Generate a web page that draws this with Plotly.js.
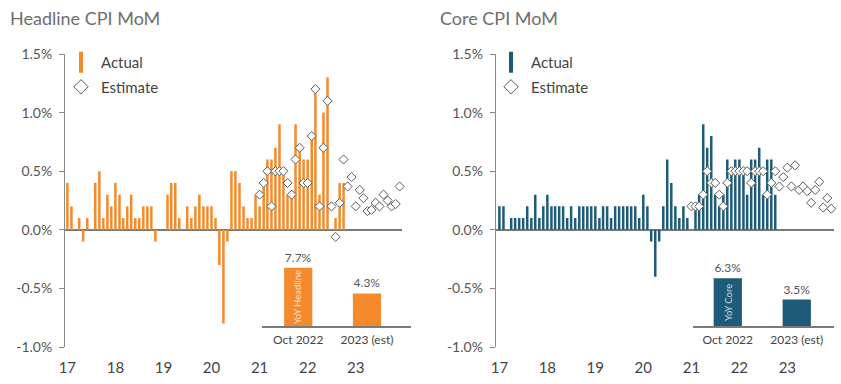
<!DOCTYPE html>
<html><head><meta charset="utf-8">
<script src="https://cdn.plot.ly/plotly-3.0.1.min.js"></script>
<style>html,body{margin:0;padding:0;background:#fff}#chart{width:841px;height:384px}</style>
</head><body><div id="chart"></div>
<script>
// ---- data (monthly MoM %, starting Jan 2017) ----
const startYear = 2017;
const headlineActual = [0.4,0.2,0,0.1,-0.1,0.1,0,0.4,0.5,0.1,0.3,0.2,
  0.4,0.3,0.1,0.2,0.3,0.1,0.1,0.2,0.2,0.2,-0.1,0,
  0,0.3,0.4,0.4,0.1,0,0.2,0.1,0.2,0.3,0.2,0.2,
  0.2,0.1,-0.3,-0.8,-0.1,0.5,0.5,0.4,0.2,0.1,0.1,0.3,
  0.2,0.4,0.6,0.6,0.7,0.9,0.5,0.3,0.3,0.9,0.7,0.6,
  0.6,0.8,1.2,0.3,1.0,1.3,0,0.1,0.4,0.4];
const coreActual = [0.2,0.2,0,0.1,0.1,0.1,0.1,0.2,0.1,0.3,0.1,0.2,
  0.3,0.2,0.2,0.2,0.2,0.1,0.2,0.1,0.2,0.2,0.2,0.2,
  0.2,0.1,0.2,0.2,0.1,0.2,0.2,0.2,0.2,0.2,0.2,0.1,
  0.3,0.2,-0.1,-0.4,-0.1,0.2,0.6,0.4,0.2,0.1,0.2,0.1,
  0,0.2,0.3,0.9,0.7,0.8,0.3,0.2,0.3,0.6,0.5,0.6,
  0.6,0.5,0.3,0.6,0.6,0.7,0.3,0.6,0.6,0.3];
// estimates start Jan 2021 (month index 48) and run to Dec 2023
const estimateStartIndex = 48;
const headlineEstimate = [0.3,0.4,0.5,0.2,0.5,0.5,0.5,0.4,0.3,0.6,0.7,0.4,
  0.4,0.8,1.2,0.2,0.7,1.1,0.2,-0.06,0.23,0.6,0.37,0.45,
  0.2,0.34,0.27,0.16,0.17,0.23,0.2,0.3,0.25,0.2,0.22,0.37];
const coreEstimate = [0.2,0.2,0.2,0.3,0.5,0.4,0.4,0.3,0.2,0.4,0.5,0.5,
  0.5,0.5,0.5,0.4,0.5,0.5,0.5,0.3,0.4,0.5,0.37,0.45,
  0.53,0.37,0.55,0.34,0.37,0.33,0.23,0.34,0.41,0.19,0.27,0.18];
const yearTickLabels = ['17','18','19','20','21','22','23'];
const yTickVals = [-1,-0.5,0,0.5,1,1.5];
const yTickText = ['-1.0%','-0.5%','0.0%','0.5%','1.0%','1.5%'];
const yoyCategories = ['Oct 2022','2023 (est)'];
const yoyHeadline = [7.7,4.3];
const yoyCore = [6.3,3.5];
const yoyHeadlineLabel = 'YoY Headline';
const yoyCoreLabel = 'YoY Core';

// ---- helpers ----
function monthDate(i){
  const y = startYear + Math.floor(i/12);
  const m = (i % 12) + 1;
  return y + '-' + String(m).padStart(2,'0') + '-01';
}
const actualDates = headlineActual.map((_, i) => monthDate(i));
const estimateDates = headlineEstimate.map((_, i) => monthDate(i + estimateStartIndex));
const yearTickVals = yearTickLabels.map((_, k) => monthDate(12*k));

const ORANGE = '#F48A2B';
const TEAL = '#1E5B78';
const FONT = 'Lato, "Open Sans", sans-serif';
const W = 841, H = 384;

function estTrace(y, xa, ya){
  return {type:'scatter', mode:'markers', x: estimateDates, y: y, xaxis: xa, yaxis: ya,
    marker:{symbol:'diamond', size:7, color:'#ffffff', line:{color:'#5a5a5a', width:1}},
    showlegend:false, hoverinfo:'skip', cliponaxis:false};
}
function legendBar(color, legend){
  return {type:'scatter', mode:'markers', x:[null], y:[null], name:'Actual', legend: legend,
    legendgroup:'a', marker:{symbol:'line-ns', size:15, line:{color: color, width:4}}};
}
function legendDiamond(legend){
  return {type:'scatter', mode:'markers', x:[null], y:[null], name:'Estimate', legend: legend,
    legendgroup:'e', marker:{symbol:'diamond', size:11, color:'#ffffff', line:{color:'#5a5a5a', width:1}}};
}

const traces = [
  {type:'bar', x: actualDates, y: headlineActual, xaxis:'x', yaxis:'y', marker:{color: ORANGE}, showlegend:false},
  estTrace(headlineEstimate, 'x', 'y'),
  {type:'bar', x: actualDates, y: coreActual, xaxis:'x2', yaxis:'y2', marker:{color: TEAL}, showlegend:false},
  estTrace(coreEstimate, 'x2', 'y2'),
  {type:'bar', x: yoyCategories, y: yoyHeadline, xaxis:'x3', yaxis:'y3', marker:{color: ORANGE}, width:0.41,
    text: yoyHeadline.map(v => v.toFixed(1) + '%'), textposition:'outside', cliponaxis:false,
    textfont:{size:12, color:'#555', family: FONT}, showlegend:false},
  {type:'bar', x: yoyCategories, y: yoyCore, xaxis:'x4', yaxis:'y4', marker:{color: TEAL}, width:0.41,
    text: yoyCore.map(v => v.toFixed(1) + '%'), textposition:'outside', cliponaxis:false,
    textfont:{size:12, color:'#555', family: FONT}, showlegend:false},
  legendBar(ORANGE, 'legend'), legendDiamond('legend'),
  legendBar(TEAL, 'legend2'), legendDiamond('legend2')
];

function mainX(domain, range){
  return {domain: domain, type:'date', range: range, showgrid:false, zeroline:false, showline:false,
    ticks:'', tickmode:'array', tickvals: yearTickVals, ticktext: yearTickLabels,
    tickfont:{size:15, color:'#444', family: FONT}, ticklabelstandoff: 10, fixedrange:true};
}
function mainY(anchor){
  return {domain:[37/H, 330/H], range:[-1, 1.5], anchor: anchor, showgrid:false,
    showline:true, linecolor:'#8a8a8a', linewidth:1, ticks:'outside', ticklen:5, tickcolor:'#8a8a8a',
    tickmode:'array', tickvals: yTickVals, ticktext: yTickText,
    tickfont:{size:14, color:'#555', family: FONT}, ticklabelstandoff: 4,
    zeroline:true, zerolinecolor:'#7a7a7a', zerolinewidth:1.5};
}
function insetX(domain, anchor, range){
  return {domain: domain, anchor: anchor, type:'category', range: range, showgrid:false, zeroline:false,
    showline:true, linecolor:'#7a7a7a', linewidth:1.5, ticks:'',
    tickfont:{size:12, color:'#444', family: FONT}, ticklabelstandoff: 2};
}
function insetY(anchor){
  return {domain:[58/H, 133.7/H], range:[0, 10], anchor: anchor, visible:false};
}

const layout = {
  width: W, height: H, margin:{l:0, r:0, t:0, b:0, pad:0},
  paper_bgcolor:'#ffffff', plot_bgcolor:'rgba(0,0,0,0)',
  font:{family: FONT, color:'#555'},
  bargap: 0.32,
  xaxis: mainX([65/W, 402/W], ['2016-12-14', '2023-12-19']),
  yaxis: mainY('x'),
  xaxis2: mainX([495.7/W, 834/W], ['2016-12-04', '2023-12-22']),
  yaxis2: mainY('x2'),
  xaxis3: insetX([262/W, 411/W], 'y3', [-0.527, 1.64]),
  yaxis3: insetY('x3'),
  xaxis4: insetX([693.3/W, 834/W], 'y4', [-0.5, 1.54]),
  yaxis4: insetY('x4'),
  legend: {x: 61/W, y: 1 - 46/H, xanchor:'left', yanchor:'top', bgcolor:'rgba(0,0,0,0)',
    font:{size:15, color:'#444', family: FONT}, tracegroupgap: 2, itemclick:false},
  legend2: {x: 491/W, y: 1 - 46/H, xanchor:'left', yanchor:'top', bgcolor:'rgba(0,0,0,0)',
    font:{size:15, color:'#444', family: FONT}, tracegroupgap: 2, itemclick:false},
  annotations: [
    {text:'Headline CPI MoM', xref:'paper', yref:'paper', x: 8/W, y: 1 - 18/H, xanchor:'left', yanchor:'middle',
      showarrow:false, font:{size:18, color:'#6e6e6e', family: FONT}},
    {text:'Core CPI MoM', xref:'paper', yref:'paper', x: 438/W, y: 1 - 18/H, xanchor:'left', yanchor:'middle',
      showarrow:false, font:{size:18, color:'#6e6e6e', family: FONT}},
    {text: yoyHeadlineLabel, xref:'x3', yref:'y3', x: yoyCategories[0], y: yoyHeadline[0]/2, textangle:-90,
      showarrow:false, font:{size:9.5, color:'rgba(255,255,255,0.75)', family: FONT}},
    {text: yoyCoreLabel, xref:'x4', yref:'y4', x: yoyCategories[0], y: yoyCore[0]/2, textangle:-90,
      showarrow:false, font:{size:9.5, color:'rgba(255,255,255,0.75)', family: FONT}}
  ]
};

Plotly.newPlot('chart', traces, layout, {displayModeBar:false, staticPlot:true});
</script></body></html>
